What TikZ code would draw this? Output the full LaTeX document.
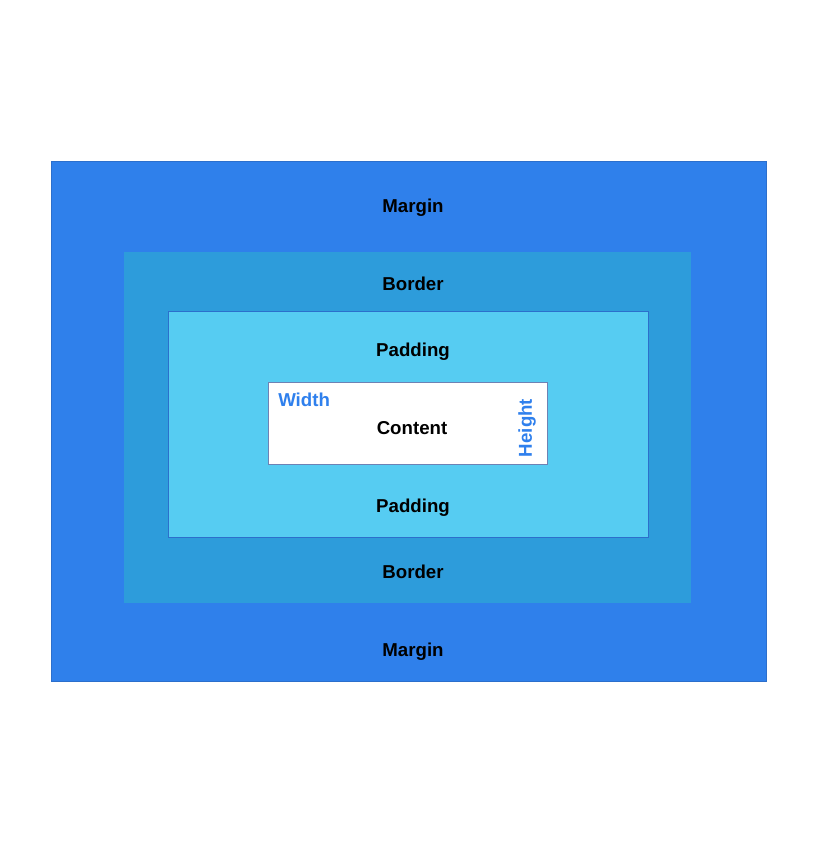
\documentclass[tikz,border=0pt]{standalone}
\usepackage{xcolor}
\usepackage{fontspec}
\setmainfont{Liberation Sans}
\usepackage{tikz}

\definecolor{marginblue}{RGB}{47,128,235}
\definecolor{borderblue}{RGB}{45,156,219}
\definecolor{paddingblue}{RGB}{86,204,242}
\definecolor{edgeblue}{RGB}{44,111,204}
\definecolor{labelblue}{RGB}{47,128,237}

\tikzset{
    boxlabel/.style={inner sep=0.75pt, font=\fontsize{14}{16}\selectfont\bfseries},
    sizelabel/.style={boxlabel, text=labelblue}
}

\begin{document}
\begin{tikzpicture}[x=0.75pt,y=0.75pt,yscale=-1,xscale=1]
        \useasboundingbox (0,0) rectangle (816,863);
        % the four boxes
        \draw [color=edgeblue, fill=marginblue, line width=0.75] (51,162) rectangle (766,681);
        \fill [borderblue] (124,252) rectangle (691,603);
        \draw [color=edgeblue, fill=paddingblue, line width=0.75] (168,311) rectangle (648,537);
        \draw [color={rgb, 255:red, 110; green, 130; blue, 180}, fill=white, line width=0.75] (268,382) rectangle (547,464);

        \node [boxlabel] (margintop) at (413,208) {Margin};
        \node [boxlabel] (bordertop) at (413,284) {Border};
        \node [boxlabel] (paddingtop) at (413,352) {Padding};
        \node [boxlabel] (content) at (412,428) {Content};
        \node [boxlabel] (paddingbot) at (413,508) {Padding};
        \node [boxlabel] (borderbot) at (413,572) {Border};
        \node [boxlabel] (marginbot) at (413,652) {Margin};

        \node [sizelabel, anchor=west] (width) at (277,400) {Width};
        \node [sizelabel, rotate=90] (height) at (527,428) {Height};
    \end{tikzpicture}
\end{document}
